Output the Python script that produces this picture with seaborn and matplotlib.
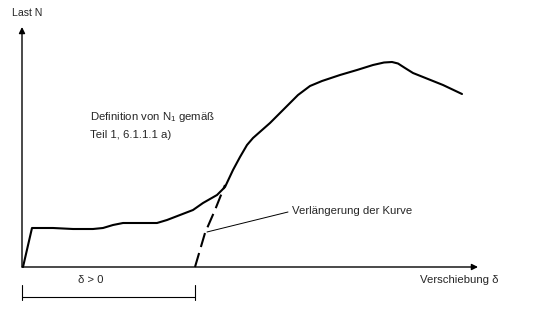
import matplotlib
matplotlib.use("Agg")
import matplotlib.pyplot as plt
import seaborn as sns
import pandas as pd

sns.set_theme(style="white")
plt.rcParams['font.family'] = ['Liberation Sans', 'DejaVu Sans']

# load-displacement curve (arbitrary units)
curve_x = [1, 10, 31, 51, 71, 81, 91, 101, 118, 135, 145, 158, 171, 181, 195, 203,
           211, 218, 225, 231, 248, 266, 276, 288, 300, 318, 335, 351, 362, 370,
           376, 383, 391, 401, 421, 440]
curve_y = [0, 39, 39, 38, 38, 39, 42, 44, 44, 44, 47, 52, 57, 64, 72, 80,
           97, 110, 122, 129, 144, 162, 172, 181, 186, 192, 197, 202, 204.5, 205,
           203.5, 199, 194, 190, 182, 173]
# extension of the curve (dashed)
ext_x = [173, 183, 193, 203]
ext_y = [0, 34, 57, 82]

label_y = "Last N"
label_x = "Verschiebung δ"
note = "Definition von $\\mathregular{N_1}$ gemäß\nTeil 1, 6.1.1.1 a)"
ext_label = "Verlängerung der Kurve"
delta_label = "δ > 0"

fig = plt.figure(figsize=(5.35, 3.11), dpi=100)
ax = fig.add_axes([0, 0, 1, 1])
ax.set_xlim(-22, 513)
ax.set_ylim(-44, 267)
ax.axis("off")

df = pd.DataFrame({"x": curve_x, "y": curve_y})
sns.lineplot(data=df, x="x", y="y", sort=False, color="black", lw=1.5, ax=ax,
             solid_joinstyle="round", solid_capstyle="round")
dfe = pd.DataFrame({"x": ext_x, "y": ext_y})
sns.lineplot(data=dfe, x="x", y="y", sort=False, color="black", lw=1.5,
             ax=ax, linestyle=(0, (7, 3)))

# axes with arrows
ax.annotate("", xy=(0, 240), xytext=(0, 0),
            arrowprops=dict(arrowstyle="-|>", color="black", lw=1.0,
                            mutation_scale=9, shrinkA=0, shrinkB=0))
ax.annotate("", xy=(456, 0), xytext=(0, 0),
            arrowprops=dict(arrowstyle="-|>", color="black", lw=1.0,
                            mutation_scale=9, shrinkA=0, shrinkB=0))

ax.text(-10, 254, label_y, fontsize=7.6, ha="left", va="center")
ax.text(398, -13, label_x, fontsize=8.2, ha="left", va="center")
ax.text(68, 142, note, fontsize=8.2, ha="left", va="center", linespacing=1.75)

# leader line
ax.plot([185, 266], [35, 55], color="black", lw=0.7)
ax.text(270, 56, ext_label, fontsize=8.2, ha="left", va="center")

# dimension
ax.plot([0, 0], [-18, -33], color="black", lw=0.8)
ax.plot([173, 173], [-18, -33], color="black", lw=0.8)
ax.plot([0, 173], [-30, -30], color="black", lw=0.8)
ax.text(56, -13, delta_label, fontsize=8.2, ha="left", va="center")

fig.savefig("out.png", dpi=100)
